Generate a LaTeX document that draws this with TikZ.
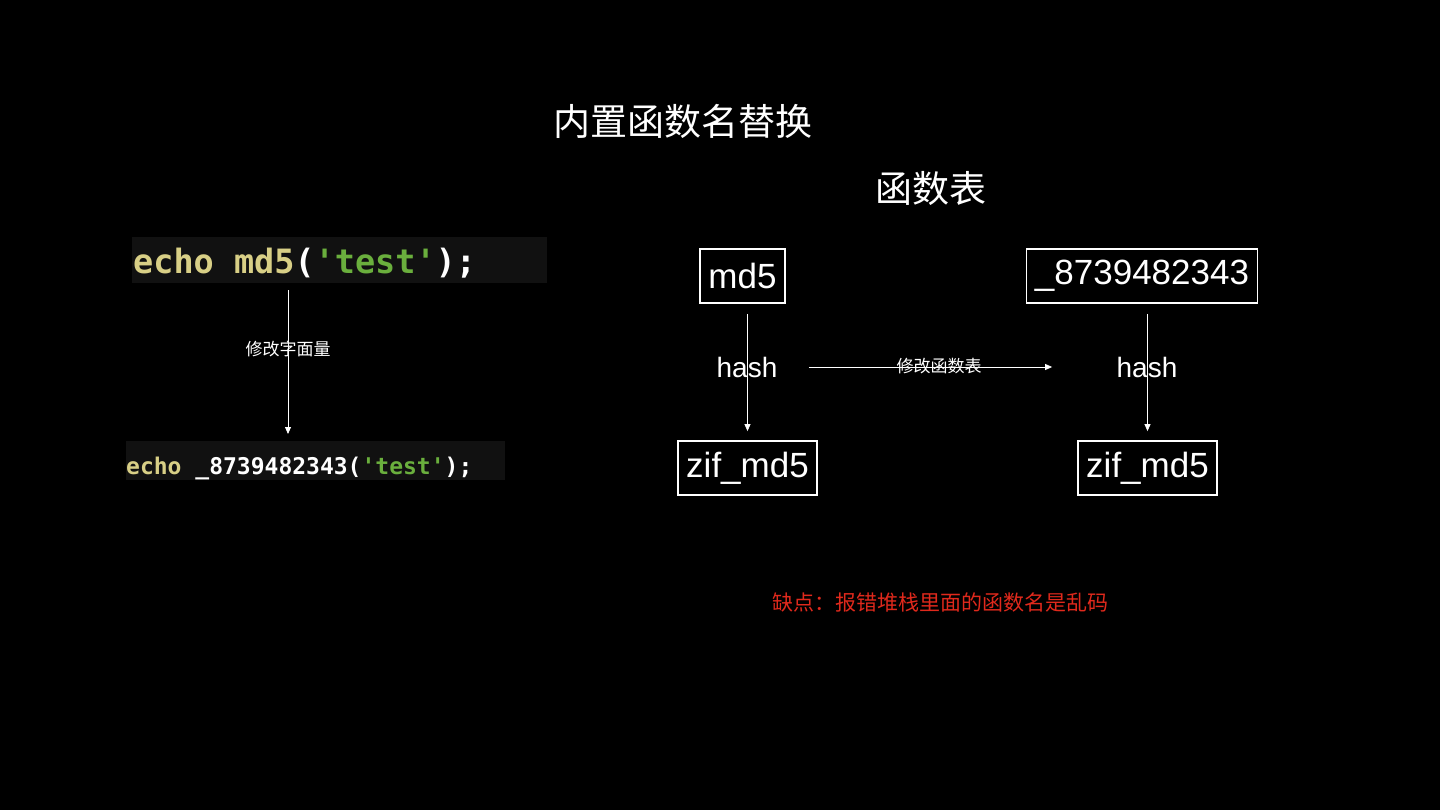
\documentclass[tikz,border=0pt]{standalone}
\usepackage{fontspec}
\setmainfont{Liberation Sans}
\setmonofont{DejaVu Sans Mono}
\newfontfamily\cjk{Noto Sans CJK SC}
\usetikzlibrary{arrows.meta,positioning}
\definecolor{codeyellow}{HTML}{D8CF86}
\definecolor{codegreen}{HTML}{6AAF3D}
\definecolor{codebg}{HTML}{111111}
\definecolor{warnred}{HTML}{E0291C}
\newcommand{\monosp}{\hphantom{x}}

\begin{document}
\begin{tikzpicture}[x=1pt,y=-1pt,
  box/.style={draw=white,line width=1.8pt,text=white,font=\fontsize{35}{40}\selectfont,
    minimum height=54pt,inner xsep=8.5pt},
  codebox/.style={fill=codebg,text=white,anchor=north west,align=left,inner ysep=0pt},
  flow/.style={white,line width=0.8pt,-{Triangle[width=6pt,length=7pt]}},
  note/.style={text=white,font=\cjk\fontsize{17}{20}\selectfont}]
  % canvas
  \fill[black] (0,0) rectangle (1440,810);
  \useasboundingbox (0,0) rectangle (1440,810);

  % Titles
  \node[text=white,font=\cjk\fontsize{37}{42}\selectfont] (title) at (683,121) {内置函数名替换};
  \node[text=white,font=\cjk\fontsize{37}{42}\selectfont] (table) at (931,188) {函数表};

  % Left: source literal rewrite
  \node[codebox,inner xsep=1pt,text width=413pt,text height=36pt,text depth=10pt] (src) at (132,237)
    {\ttfamily\bfseries\fontsize{33.5}{36}\selectfont\textcolor{codeyellow}{echo\monosp md5}(\textcolor{codegreen}{'test'});};
  \node[codebox,inner xsep=0pt,text width=379pt,text height=33pt,text depth=6pt] (dst) at (126,441)
    {\ttfamily\bfseries\fontsize{23}{26}\selectfont\textcolor{codeyellow}{echo}\monosp\_8739482343(\textcolor{codegreen}{'test'});};
  \node[note] (lit) at (288,349) {修改字面量};
  \draw[flow,shorten <=7pt,shorten >=7pt] (src.south -| lit.center) -- (dst.north -| lit.center);

  % Right: function table
  \node[box] (md5) at (742.5,276) {md5};
  \node[box] (hashed) at (1142,276) {\_8739482343};
  \node[box] (zifA) at (747.5,468) {zif\_md5};
  \node[box] (zifB) at (1147.5,468) {zif\_md5};
  \node[text=white,font=\fontsize{28}{32}\selectfont] (hashA) at (747,367) {hash};
  \node[text=white,font=\fontsize{28}{32}\selectfont] (hashB) at (1147,367) {hash};
  \draw[flow,shorten <=10pt,shorten >=9pt] (md5.south -| zifA.north) -- (zifA.north);
  \draw[flow,shorten <=10pt,shorten >=9pt] (hashed.south -| zifB.north) -- (zifB.north);
  \draw[flow,shorten <=28pt,shorten >=61pt] (hashA.east) -- (hashB.west);
  \node[note] (edit) at (939,366) {修改函数表};

  % Drawback
  \node[text=warnred,font=\cjk\fontsize{21}{24}\selectfont] (con) at (940,603) {缺点：报错堆栈里面的函数名是乱码};
\end{tikzpicture}
\end{document}
